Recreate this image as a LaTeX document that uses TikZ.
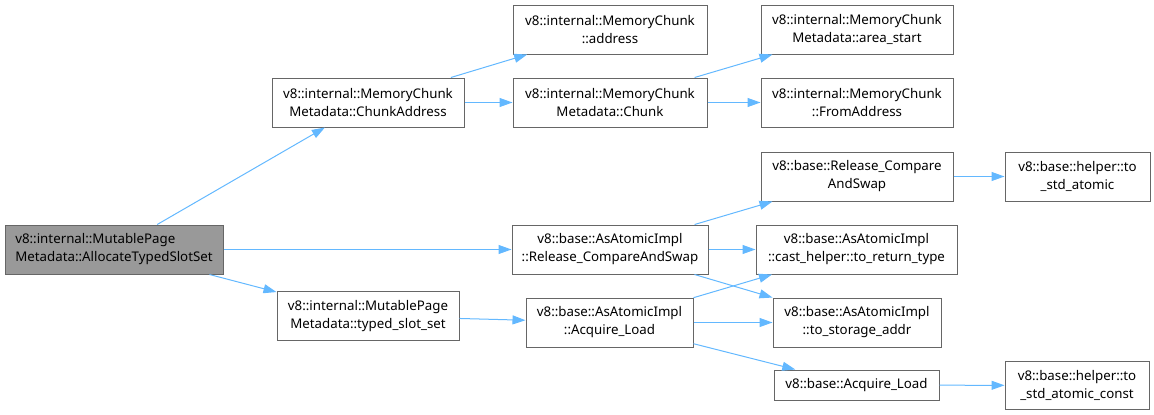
\documentclass[tikz,border=0pt]{standalone}
\usepackage{fontspec}
\setmainfont{Noto Sans}
\usepackage{tikz}
\usetikzlibrary{arrows.meta}
\definecolor{edgeblue}{RGB}{99,184,255}
\definecolor{boxgrey}{RGB}{102,102,102}
\definecolor{rootgrey}{RGB}{153,153,153}

\begin{document}
\begin{tikzpicture}[x=1pt, y=-1pt,
  font=\fontsize{13.3}{18}\selectfont, >={Triangle[length=13pt,width=9pt]},
  fn/.style={draw=boxgrey, line width=1pt, fill=white, align=center, inner sep=0pt, minimum height=49pt},
  call/.style={->, draw=edgeblue, line width=1pt}]
  \useasboundingbox (0,0) rectangle (1154,415);
  % Caller on the left
  \node[fn, fill=rootgrey, align=left, minimum width=218pt] (root) at (114,249.5) {v8::internal::MutablePage\\Metadata::AllocateTypedSlotSet};

  % Second column
  \node[fn, minimum width=192pt] (chunkaddr) at (368,102.5) {v8::internal::MemoryChunk\\Metadata::ChunkAddress};
  \node[fn, minimum width=182pt] (slotset) at (368,316) {v8::internal::MutablePage\\Metadata::typed\_slot\_set};

  % Third column
  \node[fn, minimum width=194pt] (address) at (610,29.5) {v8::internal::MemoryChunk\\::address};
  \node[fn, minimum width=194pt] (chunk) at (610,102.5) {v8::internal::MemoryChunk\\Metadata::Chunk};
  \node[fn, minimum width=196pt] (relcas) at (610,249.5) {v8::base::AsAtomicImpl\\::Release\_CompareAndSwap};
  \node[fn, minimum width=167pt] (acqload) at (609.5,322.5) {v8::base::AsAtomicImpl\\::Acquire\_Load};

  % Fourth column
  \node[fn, minimum width=192pt] (areastart) at (857,29.5) {v8::internal::MemoryChunk\\Metadata::area\_start};
  \node[fn, minimum width=192pt] (fromaddr) at (857,102.5) {v8::internal::MemoryChunk\\::FromAddress};
  \node[fn, minimum width=192pt] (baserelcas) at (857,176.5) {v8::base::Release\_Compare\\AndSwap};
  \node[fn, minimum width=201pt] (casthelper) at (856.5,249.5) {v8::base::AsAtomicImpl\\::cast\_helper::to\_return\_type};
  \node[fn, minimum width=168pt] (storage) at (857,322.5) {v8::base::AsAtomicImpl\\::to\_storage\_addr};
  \node[fn, minimum width=165pt, minimum height=30pt] (baseacq) at (856.5,385) {v8::base::Acquire\_Load};

  % Fifth column
  \node[fn, minimum width=145pt] (stdatomic) at (1077.5,176.5) {v8::base::helper::to\\\_std\_atomic};
  \node[fn, minimum width=144pt, minimum height=48pt] (stdconst) at (1077,385.5) {v8::base::helper::to\\\_std\_atomic\_const};

  % Calls
  \draw[call] (root) -- (chunkaddr);
  \draw[call] (root) -- (relcas);
  \draw[call] (root) -- (slotset);
  \draw[call] (chunkaddr) -- (address);
  \draw[call] (chunkaddr) -- (chunk);
  \draw[call] (chunk) -- (areastart);
  \draw[call] (chunk) -- (fromaddr);
  \draw[call] (relcas) -- (baserelcas);
  \draw[call] (relcas) -- (casthelper);
  \draw[call] (relcas) -- (storage);
  \draw[call] (slotset) -- (acqload);
  \draw[call] (acqload) -- (casthelper);
  \draw[call] (acqload) -- (storage);
  \draw[call] (acqload) -- (baseacq);
  \draw[call] (baserelcas) -- (stdatomic);
  \draw[call] (baseacq) -- (stdconst);
\end{tikzpicture}
\end{document}
